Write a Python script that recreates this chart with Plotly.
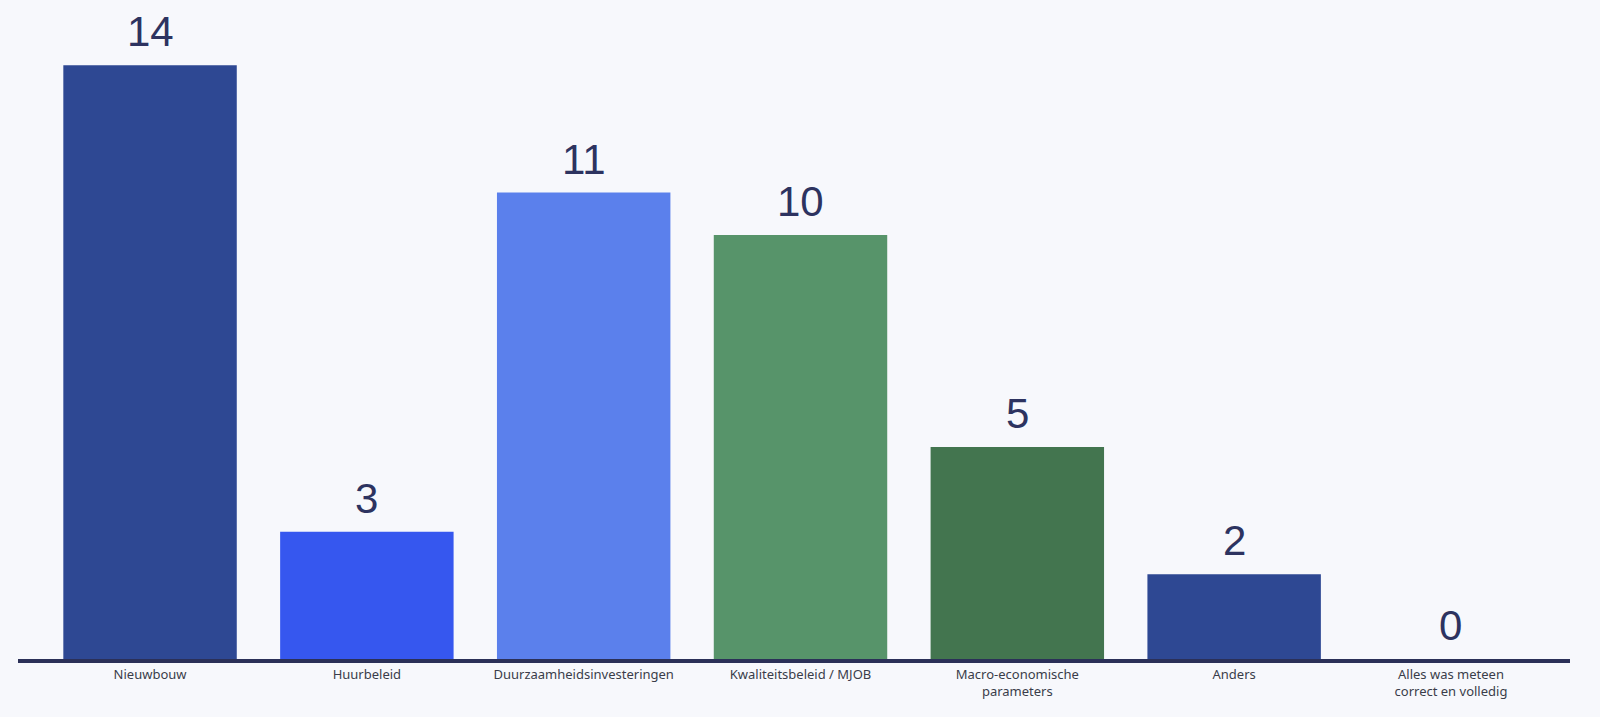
import plotly.graph_objects as go

categories = [
    "Nieuwbouw",
    "Huurbeleid",
    "Duurzaamheidsinvesteringen",
    "Kwaliteitsbeleid / MJOB",
    "Macro-economische<br>parameters",
    "Anders",
    "Alles was meteen<br>correct en volledig",
]
values = [14, 3, 11, 10, 5, 2, 0]
bar_colors = ["#2e4893", "#3657ef", "#5b80ec", "#57946a", "#43754f", "#2e4893", "#2e4893"]

fig = go.Figure(go.Bar(
    x=categories,
    y=values,
    marker=dict(color=bar_colors, line=dict(width=0)),
    width=0.8,
    hoverinfo="skip",
))

# value labels above the bars, with a bit more gap than textposition='outside'
for cat, val in zip(categories, values):
    fig.add_annotation(
        x=cat, y=val, text=str(val),
        showarrow=False, yanchor="bottom", yshift=8,
        font=dict(size=42, color="#2d3360", family="Liberation Sans, Arial"),
    )

fig.update_layout(
    paper_bgcolor="#f7f8fc",
    plot_bgcolor="#f7f8fc",
    width=1600,
    height=717,
    margin=dict(l=18, r=30, t=20, b=58),
    showlegend=False,
    xaxis=dict(
        range=[-0.609, 6.549],
        showgrid=False,
        showline=True,
        linecolor="#2b3058",
        linewidth=4,
        ticks="",
        tickfont=dict(size=13, color="#3a3d4a", family="Noto Sans"),
        fixedrange=True,
    ),
    yaxis=dict(
        range=[0, 15.07],
        showgrid=False,
        showticklabels=False,
        zeroline=False,
        ticks="",
        fixedrange=True,
    ),
)

fig.write_html(
    "out.html",
    config=dict(displayModeBar=False),
    post_script="document.body.style.margin='0';document.body.style.background='#f7f8fc';",
)
